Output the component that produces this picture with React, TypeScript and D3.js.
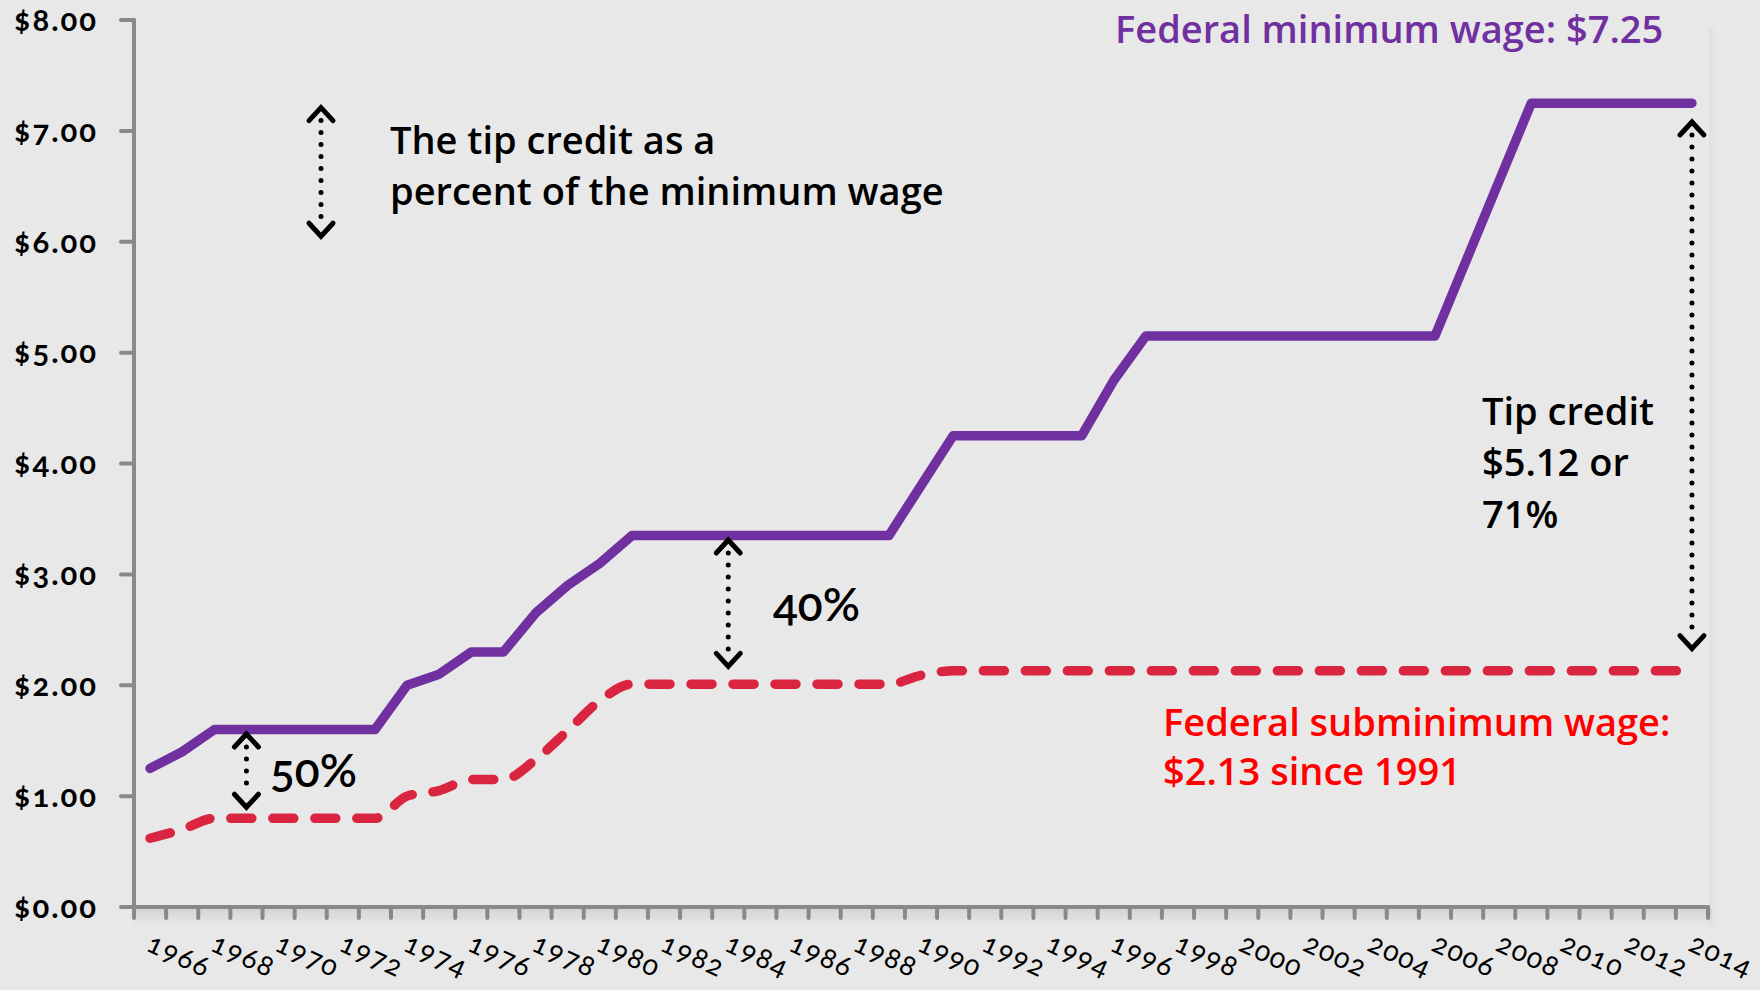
import React from "react";
import * as d3 from "d3";

// categories and series
const years = [
  1966, 1967, 1968, 1969, 1970, 1971, 1972, 1973, 1974, 1975, 1976, 1977,
  1978, 1979, 1980, 1981, 1982, 1983, 1984, 1985, 1986, 1987, 1988, 1989,
  1990, 1991, 1992, 1993, 1994, 1995, 1996, 1997, 1998, 1999, 2000, 2001,
  2002, 2003, 2004, 2005, 2006, 2007, 2008, 2009, 2010, 2011, 2012, 2013, 2014,
];
const minWage = [
  1.25, 1.4, 1.6, 1.6, 1.6, 1.6, 1.6, 1.6, 2.0, 2.1, 2.3, 2.3,
  2.65, 2.9, 3.1, 3.35, 3.35, 3.35, 3.35, 3.35, 3.35, 3.35, 3.35, 3.35,
  3.8, 4.25, 4.25, 4.25, 4.25, 4.25, 4.75, 5.15, 5.15, 5.15, 5.15, 5.15,
  5.15, 5.15, 5.15, 5.15, 5.15, 5.85, 6.55, 7.25, 7.25, 7.25, 7.25, 7.25, 7.25,
];
const subminWage = [
  0.62, 0.7, 0.8, 0.8, 0.8, 0.8, 0.8, 0.8, 1.0, 1.05, 1.15, 1.15,
  1.33, 1.59, 1.86, 2.01, 2.01, 2.01, 2.01, 2.01, 2.01, 2.01, 2.01, 2.01,
  2.09, 2.13, 2.13, 2.13, 2.13, 2.13, 2.13, 2.13, 2.13, 2.13, 2.13, 2.13,
  2.13, 2.13, 2.13, 2.13, 2.13, 2.13, 2.13, 2.13, 2.13, 2.13, 2.13, 2.13, 2.13,
];
const yTickValues = [0, 1, 2, 3, 4, 5, 6, 7, 8];
const xLabelYears = [
  1966, 1968, 1970, 1972, 1974, 1976, 1978, 1980, 1982, 1984, 1986, 1988, 1990,
  1992, 1994, 1996, 1998, 2000, 2002, 2004, 2006, 2008, 2010, 2012, 2014,
];

// gap arrows: year, top value, bottom value
const gapYears = [1969, 1984, 2014];
const gapTops = [1.56, 3.31, 7.08];
const gapBottoms = [0.9, 2.17, 2.33];

const PURPLE = "#7030a0";
const RED = "#da2540";
const AXIS = "#898989";
const W = 1760;
const H = 990;

function Arrow({x, y1, y2}: {x: number; y1: number; y2: number}) {
  return (
    <g stroke="#000" fill="none" strokeLinecap="round">
      <line x1={x} x2={x} y1={y1 + 13} y2={y2 - 13} strokeWidth={5} strokeDasharray="0 12" />
      <path d={`M${x - 12},${y1 + 13} L${x},${y1} L${x + 12},${y1 + 13}`} strokeWidth={5} strokeLinejoin="miter" />
      <path d={`M${x - 12},${y2 - 13} L${x},${y2} L${x + 12},${y2 - 13}`} strokeWidth={5} strokeLinejoin="miter" />
    </g>
  );
}

export default function App() {
  const x = d3.scaleBand<number>().domain(years).range([134, 1708]).paddingInner(0).paddingOuter(0);
  const y = d3.scaleLinear().domain([0, 8]).range([907, 20]);
  const cx = (yr: number) => (x(yr) as number) + x.bandwidth() / 2;

  const minLine = d3.line<number>()
    .x((_, i) => cx(years[i]))
    .y(d => y(d));
  const subLine = d3.line<number>()
    .x((_, i) => cx(years[i]))
    .y(d => y(d))
    .curve(d3.curveMonotoneX);

  const fmt = d3.format("$.2f");
  const tickBounds = years.map(yr => x(yr) as number).concat([x.range()[1]]);

  const textFont = {fontFamily: "'Open Sans', 'Noto Sans', sans-serif", fontWeight: 600};
  const numFont = {fontFamily: "Lato, 'Open Sans', sans-serif", fontVariantNumeric: "oldstyle-nums", fontFeatureSettings: "'onum'"};

  return (
    <div style={{position: "fixed", left: 0, top: 0}}>
      <svg width={W} height={H} style={{display: "block"}}>
        <defs>
          <linearGradient id="shadowDown" x1="0" y1="0" x2="0" y2="1">
            <stop offset="0" stopColor="#000" stopOpacity={0.08} />
            <stop offset="1" stopColor="#000" stopOpacity={0} />
          </linearGradient>
          <linearGradient id="shadowRight" x1="0" y1="0" x2="1" y2="0">
            <stop offset="0" stopColor="#000" stopOpacity={0.035} />
            <stop offset="1" stopColor="#000" stopOpacity={0} />
          </linearGradient>
        </defs>
        <rect width={W} height={H} fill="#e8e8e8" />
        <rect x={134} y={909} width={1578} height={18} fill="url(#shadowDown)" />
        <rect x={1709} y={28} width={8} height={899} fill="url(#shadowRight)" />

        {/* y axis */}
        <line x1={134} x2={134} y1={y(8)} y2={y(0)} stroke={AXIS} strokeWidth={4} strokeLinecap="round" />
        {yTickValues.map(v => (
          <g key={v} transform={`translate(0,${y(v)})`}>
            <line x1={121} x2={134} stroke={AXIS} strokeWidth={4} strokeLinecap="round" />
            <text x={98} dy="0.35em" textAnchor="end" fontSize={31} fontWeight={700} letterSpacing={2} fill="#000" style={numFont}>
              {fmt(v)}
            </text>
          </g>
        ))}

        {/* x axis */}
        <line x1={134} x2={1708} y1={y(0)} y2={y(0)} stroke={AXIS} strokeWidth={4} strokeLinecap="round" />
        {tickBounds.map((tx, i) => (
          <line key={i} x1={tx} x2={tx} y1={y(0)} y2={y(0) + 11} stroke={AXIS} strokeWidth={4} strokeLinecap="round" />
        ))}
        {xLabelYears.map(yr => (
          <text key={yr} transform={`translate(${cx(yr) - 5},950) rotate(25)`} fontSize={28} letterSpacing={1.5} fill="#000" style={numFont}>
            {yr}
          </text>
        ))}

        {/* series */}
        <path d={subLine(subminWage) || ""} fill="none" stroke={RED} strokeWidth={9.5} strokeDasharray="21 21" strokeLinecap="round" />
        <path d={minLine(minWage) || ""} fill="none" stroke={PURPLE} strokeWidth={9.5} strokeLinejoin="round" strokeLinecap="round" />

        {/* gap arrows */}
        {gapYears.map((yr, i) => (
          <Arrow key={yr} x={cx(yr)} y1={y(gapTops[i])} y2={y(gapBottoms[i])} />
        ))}
        <Arrow x={321} y1={y(7.21)} y2={y(6.05)} />

        {/* annotations */}
        <text x={270} y={787} fontSize={46} fontWeight={600} fill="#000" style={numFont}>50%</text>
        <text x={773} y={621} fontSize={46} fontWeight={600} fill="#000" style={numFont}>40%</text>

        <g fontSize={38} fill="#000" style={textFont}>
          <text x={390} y={154}>The tip credit as a</text>
          <text x={390} y={205}>percent of the minimum wage</text>
          <text x={1482} y={425}>Tip credit</text>
          <text x={1482} y={476}>$5.12 or</text>
          <text x={1482} y={528}>71%</text>
        </g>
        <text x={1115} y={43} fontSize={38} fill={PURPLE} style={textFont}>Federal minimum wage: $7.25</text>
        <g fontSize={38} fill="#ff0000" style={textFont}>
          <text x={1163} y={736}>Federal subminimum wage:</text>
          <text x={1163} y={785}>$2.13 since 1991</text>
        </g>
      </svg>
    </div>
  );
}
